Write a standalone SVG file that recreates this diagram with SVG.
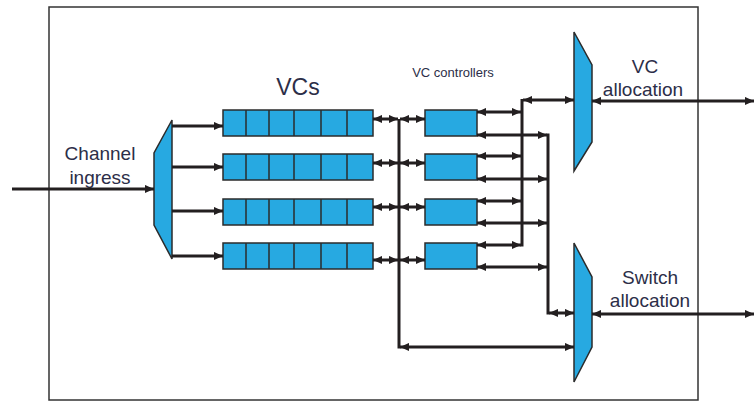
<svg xmlns="http://www.w3.org/2000/svg" width="754" height="403" viewBox="0 0 754 403">
<defs>
<marker id="ah" viewBox="0 0 10 10" refX="10" refY="5" markerWidth="9" markerHeight="9" markerUnits="userSpaceOnUse" orient="auto-start-reverse">
<path d="M0,0.5 L10,5 L0,9.5 z" fill="#231F20"/>
</marker>
<style>
.blk{fill:#27A9E1;stroke:#2b2b2b;stroke-width:1.5}
.cell{fill:none;stroke:#2b2b2b;stroke-width:1.5}
.ln{fill:none;stroke:#231F20;stroke-width:3}
.a1{marker-end:url(#ah)}
.a2{marker-start:url(#ah);marker-end:url(#ah)}
.t{font-family:"Liberation Sans",Arial,sans-serif;fill:#2c2e48;text-anchor:middle}
</style>
</defs>
<rect x="49" y="7" width="649" height="393" fill="#fff" stroke="#333" stroke-width="1.5"/>

<g id="labels">
<text class="t" x="100" y="160" font-size="19">Channel</text>
<text class="t" x="100" y="184" font-size="19">ingress</text>
<text class="t" x="298" y="95" font-size="23">VCs</text>
<text class="t" x="453" y="77" font-size="13">VC controllers</text>
<text class="t" x="645" y="73" font-size="19">VC</text>
<text class="t" x="643" y="96" font-size="19">allocation</text>
<text class="t" x="650" y="284" font-size="19">Switch</text>
<text class="t" x="650" y="307" font-size="19">allocation</text>
</g>

<g id="demux"><polygon class="blk" points="172,120 172,259 154,225 154,153"/></g>

<g id="vc1">
<rect class="blk" x="223" y="110" width="150" height="26"/>
<path class="cell" d="M246,110v26M269,110v26M294,110v26M321,110v26M347,110v26"/>
</g>
<g id="vc2">
<rect class="blk" x="223" y="154" width="150" height="26"/>
<path class="cell" d="M246,154v26M269,154v26M294,154v26M321,154v26M347,154v26"/>
</g>
<g id="vc3">
<rect class="blk" x="223" y="199" width="150" height="26"/>
<path class="cell" d="M246,199v26M269,199v26M294,199v26M321,199v26M347,199v26"/>
</g>
<g id="vc4">
<rect class="blk" x="223" y="243" width="150" height="26"/>
<path class="cell" d="M246,243v26M269,243v26M294,243v26M321,243v26M347,243v26"/>
</g>

<g id="ctrl1"><rect class="blk" x="425" y="110" width="52" height="26"/></g>
<g id="ctrl2"><rect class="blk" x="425" y="154" width="52" height="26"/></g>
<g id="ctrl3"><rect class="blk" x="425" y="199" width="52" height="26"/></g>
<g id="ctrl4"><rect class="blk" x="425" y="243" width="52" height="26"/></g>

<g id="vc-allocator"><polygon class="blk" points="574,32 592,65 592,142 574,171"/></g>
<g id="switch-allocator"><polygon class="blk" points="574,243 592,277 592,347 574,382"/></g>

<g id="connectors">
<line class="ln a1" x1="12" y1="189" x2="154" y2="189"/>
<line class="ln a1" x1="172" y1="126" x2="223" y2="126"/>
<line class="ln a1" x1="172" y1="167" x2="223" y2="167"/>
<line class="ln a1" x1="172" y1="211" x2="223" y2="211"/>
<line class="ln a1" x1="172" y1="256" x2="223" y2="256"/>

<line class="ln a2" x1="373" y1="119" x2="398" y2="119"/>
<line class="ln a2" x1="400" y1="119" x2="425" y2="119"/>
<line class="ln a2" x1="373" y1="163" x2="398" y2="163"/>
<line class="ln a2" x1="400" y1="163" x2="425" y2="163"/>
<line class="ln a2" x1="373" y1="207" x2="398" y2="207"/>
<line class="ln a2" x1="400" y1="207" x2="425" y2="207"/>
<line class="ln a2" x1="373" y1="260" x2="398" y2="260"/>
<line class="ln a2" x1="400" y1="260" x2="425" y2="260"/>
<path class="ln" d="M399,119 V348.5"/>
<line class="ln a2" x1="400" y1="347" x2="574" y2="347"/>

<line class="ln a2" x1="477" y1="112" x2="521" y2="112"/>
<line class="ln a2" x1="477" y1="156" x2="521" y2="156"/>
<line class="ln a2" x1="477" y1="201" x2="521" y2="201"/>
<line class="ln a2" x1="477" y1="245" x2="521" y2="245"/>
<path class="ln" d="M522,99 V246.5"/>
<line class="ln a2" x1="523" y1="100" x2="574" y2="100"/>

<line class="ln a2" x1="477" y1="135" x2="547" y2="135"/>
<line class="ln a2" x1="477" y1="179" x2="547" y2="179"/>
<line class="ln a2" x1="477" y1="223" x2="547" y2="223"/>
<line class="ln a2" x1="477" y1="267" x2="547" y2="267"/>
<path class="ln" d="M548,133.5 V314.5"/>
<line class="ln a2" x1="549" y1="313" x2="574" y2="313"/>

<line class="ln a2" x1="592" y1="101" x2="754" y2="101"/>
<line class="ln a2" x1="592" y1="314" x2="754" y2="314"/>
</g>
</svg>
